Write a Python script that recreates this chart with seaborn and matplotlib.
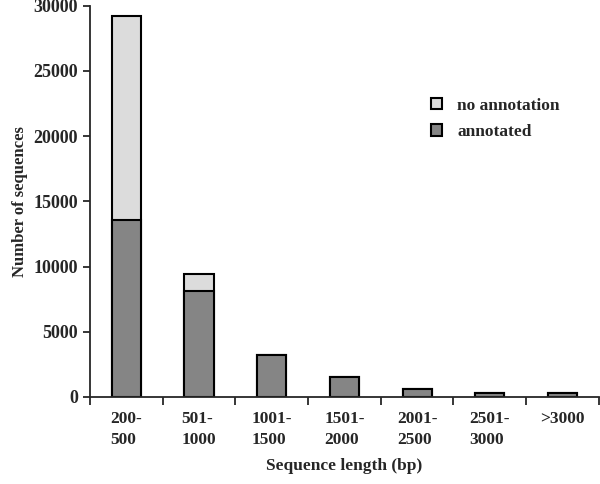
import matplotlib
matplotlib.use('Agg')
import matplotlib.pyplot as plt
import seaborn as sns
import pandas as pd

# Data
categories = ['200-\n500', '501-\n1000', '1001-\n1500', '1501-\n2000', '2001-\n2500', '2501-\n3000', '>3000']
annotated = [13600, 8100, 3200, 1500, 620, 300, 300]
no_annotation = [15650, 1350, 0, 0, 0, 0, 0]
totals = [a + b for a, b in zip(annotated, no_annotation)]

df = pd.DataFrame({'length': categories, 'annotated': annotated, 'total': totals})

sns.set_style('ticks')
plt.rcParams['font.family'] = ['Liberation Serif', 'DejaVu Serif']
plt.rcParams['font.weight'] = 'bold'

fig = plt.figure(figsize=(6, 4.84), dpi=100)
ax = fig.add_axes([0.15, 0.18, 0.848, 0.808])

# Stacked bars: draw totals first, then annotated part on top
sns.barplot(data=df, x='length', y='total', color='#dcdcdc', edgecolor='black',
            linewidth=1.5, width=0.4, saturation=1, ax=ax, label='no annotation')
sns.barplot(data=df, x='length', y='annotated', color='#858585', edgecolor='black',
            linewidth=1.5, width=0.4, saturation=1, ax=ax, label='annotated')

ax.set_xlim(-0.5, 6.5)
ax.set_ylim(0, 30000)
ax.set_yticks(range(0, 30001, 5000))

# category tick marks sit between the bars
ax.set_xticks([i + 0.5 for i in range(-1, 7)], minor=True)
ax.tick_params(axis='x', which='major', length=0, pad=10, labelsize=12.5)
ax.tick_params(axis='x', which='minor', length=6, width=1.3, direction='out')
ax.tick_params(axis='y', length=5, width=1.3, labelsize=13)
for lab in ax.get_xticklabels() + ax.get_yticklabels():
    lab.set_fontweight('bold')
for lab in ax.get_xticklabels():
    lab.set_horizontalalignment('center')
    lab.set_multialignment('left')
    lab.set_linespacing(1.45)

ax.set_xlabel('Sequence length (bp)', fontsize=12.5, fontweight='bold', labelpad=7)
ax.set_ylabel('Number of sequences', fontsize=12, fontweight='bold', labelpad=4)

sns.despine(ax=ax)
ax.spines['left'].set_linewidth(1.3)
ax.spines['bottom'].set_linewidth(1.3)

leg = ax.legend(loc='upper left', bbox_to_anchor=(0.64, 0.805), frameon=False,
                fontsize=12.5, handlelength=0.6, handleheight=0.6, handletextpad=0.9,
                labelspacing=0.6)
for t in leg.get_texts():
    t.set_fontweight('bold')

fig.savefig('out.png', dpi=100)
